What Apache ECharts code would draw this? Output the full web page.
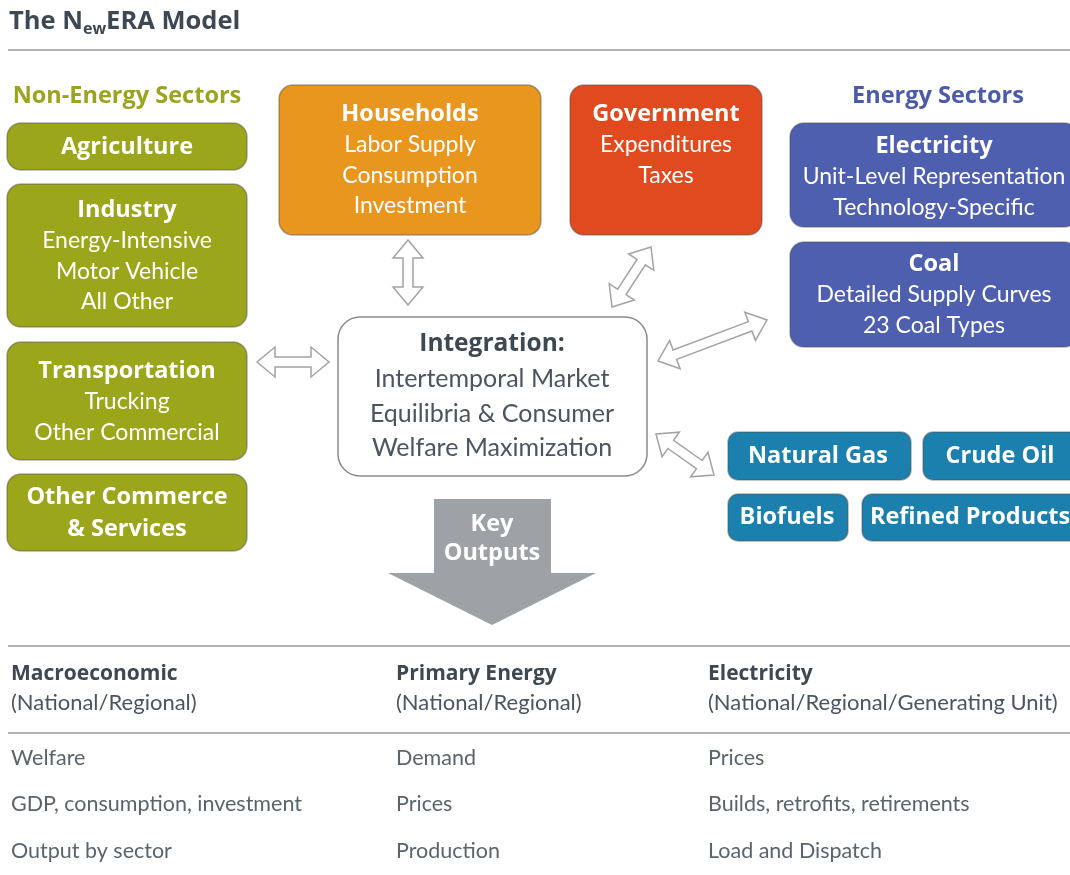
<!DOCTYPE html>
<html>
<head>
<meta charset="utf-8">
<title>The NewERA Model</title>
<script src="https://cdn.jsdelivr.net/npm/echarts@6/dist/echarts.min.js"></script>
<style>
  html, body { margin: 0; padding: 0; background: #fff; }
  #main { width: 1070px; height: 875px; }
</style>
</head>
<body>
<div id="main"></div>
<script>
// diagram content
var nonEnergyTitles = ['Agriculture', 'Industry', 'Transportation', 'Other Commerce\n& Services'];
var nonEnergyLines = [[], ['Energy-Intensive', 'Motor Vehicle', 'All Other'], ['Trucking', 'Other Commercial'], []];
var agentTitles = ['Households', 'Government'];
var agentLines = [['Labor Supply', 'Consumption', 'Investment'], ['Expenditures', 'Taxes']];
var energyTitles = ['Electricity', 'Coal'];
var energyLines = [['Unit-Level Representation', 'Technology-Specific'], ['Detailed Supply Curves', '23 Coal Types']];
var fuelNames = ['Natural Gas', 'Crude Oil', 'Biofuels', 'Refined Products'];
var integrationTitle = 'Integration:';
var integrationLines = ['Intertemporal Market', 'Equilibria & Consumer', 'Welfare Maximization'];
var outputHeaders = ['Macroeconomic', 'Primary Energy', 'Electricity'];
var outputScopes = ['(National/Regional)', '(National/Regional)', '(National/Regional/Generating Unit)'];
var macroOutputs = ['Welfare', 'GDP, consumption, investment', 'Output by sector'];
var primaryOutputs = ['Demand', 'Prices', 'Production'];
var electricityOutputs = ['Prices', 'Builds, retrofits, retirements', 'Load and Dispatch'];

// layout
var FONT = 'Lato, "Open Sans", sans-serif';
var BOLD = '"Open Sans", Lato, sans-serif';
var DARK = '#3d4852';
var nonEnergyBoxes = [[7, 123, 240, 47], [7, 184, 240, 143], [7, 342, 240, 118], [7, 474, 240, 77]];
var nonEnergyTop = [147, 210, 371, 497];
var agentBoxes = [[279, 85, 262, 150], [570, 85, 192, 150]];
var agentColors = ['#e9961f', '#e1491f'];
var energyBoxes = [[790, 123, 288, 104], [790, 242, 288, 105]];
var energyTop = [146, 264];
var fuelBoxes = [[728, 432, 183, 48], [923, 432, 160, 48], [728, 494, 120, 47], [862, 494, 220, 47]];
var fuelTextX = [818, 1000, 787, 970];
var arrows = [
  [408, 240, 408, 305],
  [612, 307, 651, 247],
  [257, 362, 329, 362],
  [658, 361, 767, 320],
  [656, 434, 714, 475]
];
var colX = [11, 396, 708];

var els = [];

function txt(s, x, y, size, weight, color, align) {
  els.push({
    type: 'text', silent: true,
    style: {
      text: s, x: x, y: y, fill: color,
      fontSize: size, fontWeight: weight, fontFamily: weight === 'bold' ? BOLD : FONT,
      align: align || 'center', textAlign: align || 'center',
      verticalAlign: 'middle', textVerticalAlign: 'middle'
    }
  });
}

function box(b, color, r, stroke) {
  els.push({
    type: 'rect', silent: true,
    shape: { x: b[0], y: b[1], width: b[2], height: b[3], r: r },
    style: { fill: color, stroke: stroke || 'rgba(80,80,80,0.45)', lineWidth: 1.5 }
  });
}

function block(b, color, titleY, title, lines) {
  box(b, color, 14);
  var cx = b[0] + b[2] / 2;
  var y = titleY;
  title.split('\n').forEach(function (t) { txt(t, cx, y, 23.5, 'bold', '#fff'); y += 32; });
  y -= 1;
  lines.forEach(function (t) { txt(t, cx, y, 23, 'normal', '#fff'); y += 30.5; });
}

function dblArrow(a) {
  var x1 = a[0], y1 = a[1], x2 = a[2], y2 = a[3];
  var len = Math.sqrt((x2 - x1) * (x2 - x1) + (y2 - y1) * (y2 - y1));
  var ux = (x2 - x1) / len, uy = (y2 - y1) / len, nx = -uy, ny = ux;
  var hw = 15, sw = 5, hl = 18;
  var ax = x1 + ux * hl, ay = y1 + uy * hl, bx = x2 - ux * hl, by = y2 - uy * hl;
  var pts = [
    [x1, y1], [ax + nx * hw, ay + ny * hw], [ax + nx * sw, ay + ny * sw],
    [bx + nx * sw, by + ny * sw], [bx + nx * hw, by + ny * hw], [x2, y2],
    [bx - nx * hw, by - ny * hw], [bx - nx * sw, by - ny * sw],
    [ax - nx * sw, ay - ny * sw], [ax - nx * hw, ay - ny * hw]
  ];
  els.push({
    type: 'polygon', silent: true,
    shape: { points: pts },
    style: { fill: '#fff', stroke: '#a3a3a3', lineWidth: 1.5 }
  });
}

function hline(y, w, color) {
  els.push({
    type: 'line', silent: true,
    shape: { x1: 8, y1: y, x2: 1070, y2: y },
    style: { stroke: color, lineWidth: w }
  });
}

// title
els.push({
  type: 'text', silent: true,
  style: {
    text: '{a|The N}{s|ew}{a|ERA Model}', x: 9, y: 6,
    align: 'left', verticalAlign: 'top',
    rich: {
      a: { fontSize: 25.5, fontWeight: 'bold', fontFamily: BOLD, fill: DARK, color: DARK, lineHeight: 31 },
      s: { fontSize: 16, fontWeight: 'bold', fontFamily: BOLD, fill: DARK, color: DARK, lineHeight: 16, verticalAlign: 'bottom' }
    }
  }
});
hline(50, 1.5, '#9a9a9a');

// section headings
txt('Non-Energy Sectors', 127, 96, 23.5, 'bold', '#9aa41d');
txt('Energy Sectors', 938, 96, 23.5, 'bold', '#4b5ba8');

nonEnergyBoxes.forEach(function (b, i) { block(b, '#9ca61b', nonEnergyTop[i], nonEnergyTitles[i], nonEnergyLines[i]); });
agentBoxes.forEach(function (b, i) { block(b, agentColors[i], 114, agentTitles[i], agentLines[i]); });
energyBoxes.forEach(function (b, i) { block(b, '#4f5fb0', energyTop[i], energyTitles[i], energyLines[i]); });
fuelBoxes.forEach(function (b, i) {
  box(b, '#1b80ad', 10);
  txt(fuelNames[i], fuelTextX[i], b[1] + b[3] / 2, 23.5, 'bold', '#fff');
});

// integration
box([338, 317, 309, 159], '#fff', 22, '#8c8c8c');
txt(integrationTitle, 492, 344, 24.5, 'bold', DARK);
integrationLines.forEach(function (t, i) { txt(t, 492, 379 + i * 34.5, 25, 'normal', '#4a5560'); });

arrows.forEach(dblArrow);

// key outputs arrow
els.push({
  type: 'polygon', silent: true,
  shape: { points: [[434, 499], [551, 499], [551, 573], [596, 573], [492, 625], [388, 573], [434, 573]] },
  style: { fill: '#9ea2a6' }
});
txt('Key', 492, 524, 23.5, 'bold', '#fff');
txt('Outputs', 492, 553, 23.5, 'bold', '#fff');

// outputs table
hline(646, 2, '#b3b3b3');
hline(733, 2, '#b3b3b3');
var outputCols = [macroOutputs, primaryOutputs, electricityOutputs];
colX.forEach(function (x, c) {
  txt(outputHeaders[c], x, 674, 21, 'bold', DARK, 'left');
  txt(outputScopes[c], x, 703, 22, 'normal', '#4a5560', 'left');
  outputCols[c].forEach(function (t, r) { txt(t, x, 758 + r * 46.5, 21.5, 'normal', '#5a646c', 'left'); });
});

var chart = echarts.init(document.getElementById('main'));
chart.setOption({
  backgroundColor: '#fff',
  animation: false,
  graphic: { elements: els }
});
</script>
</body>
</html>
